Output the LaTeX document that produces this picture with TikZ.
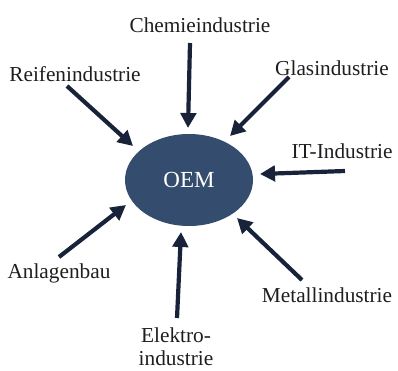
\documentclass[tikz,border=0pt]{standalone}
\usepackage{fontspec}
\setmainfont{Liberation Serif}
\usetikzlibrary{arrows.meta,shapes.geometric}
\definecolor{oemblue}{RGB}{52,77,110}
\definecolor{arrowink}{RGB}{24,34,56}
\definecolor{labelink}{RGB}{30,30,30}
\begin{document}
\begin{tikzpicture}[x=1pt,y=-1pt,
  lbl/.style={font=\fontsize{21.3}{22.5}\selectfont, text=labelink, inner sep=0pt, anchor=base},
  feed/.style={draw=arrowink, line width=4.2pt, -{Triangle[length=15pt,width=15.5pt]}}]
  \useasboundingbox (0,0) rectangle (398,370);

  % central company
  \node[ellipse, fill=oemblue, minimum width=128pt, minimum height=92pt, inner sep=0pt,
        font=\fontsize{23}{26}\selectfont, text=white] (oem) at (189,180) {OEM};

  % supplier industries
  \node[lbl] (chemie)  at (200,32)  {Chemieindustrie};
  \node[lbl] (reifen)  at (75,81)   {Reifenindustrie};
  \node[lbl] (glas)    at (332,75)  {Glasindustrie};
  \node[lbl] (it)      at (342,158) {IT-Industrie};
  \node[lbl] (anlagen) at (59,278)  {Anlagenbau};
  \node[lbl] (metall)  at (327,302) {Metallindustrie};
  \node[lbl, align=center] (elektro) at (176,365) {Elektro-\\industrie};

  % arrow anchors
  \coordinate (cS) at (190,43);   \coordinate (cE) at (188,128);
  \coordinate (rS) at (67,86);    \coordinate (rE) at (133,146);
  \coordinate (gS) at (289,77);   \coordinate (gE) at (230,136);
  \coordinate (iS) at (345,171);  \coordinate (iE) at (260,174);
  \coordinate (aS) at (59,257);   \coordinate (aE) at (126,205);
  \coordinate (eS) at (177,318);  \coordinate (eE) at (181,232);
  \coordinate (mS) at (302,280);  \coordinate (mE) at (237,218);

  \draw[feed] (cS) -- (cE);
  \draw[feed] (rS) -- (rE);
  \draw[feed] (gS) -- (gE);
  \draw[feed] (iS) -- (iE);
  \draw[feed] (aS) -- (aE);
  \draw[feed] (eS) -- (eE);
  \draw[feed] (mS) -- (mE);
\end{tikzpicture}
\end{document}
